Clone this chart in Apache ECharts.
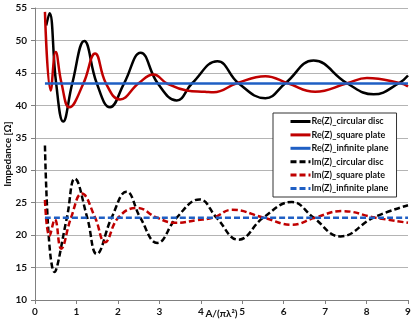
<!DOCTYPE html>
<html><head><meta charset="utf-8">
<script src="https://cdn.jsdelivr.net/npm/echarts@6/dist/echarts.min.js"></script>
<style>html,body{margin:0;padding:0;background:#fff}#c{width:418px;height:325px}</style>
</head><body><div id="c"></div>
<script>
// Re(Z) circular disc
const reDiscX = [0.27,0.35,0.51,0.68,0.9,1.19,1.49,1.81,2.15,2.55,2.96,3.42,3.79,4.4,4.91,5.56,6.04,6.72,7.53,8.17,8.78,9.0];
const reDiscY = [52.3,54.2,43.4,37.5,43.4,49.9,43.4,39.7,43.4,48.1,43.4,40.75,43.4,46.8,43.4,41.1,43.4,46.9,43.4,41.7,43.4,44.6];
// Re(Z) square plate
const reSquareX = [0.24,0.38,0.5,0.64,0.83,1.17,1.45,1.71,2.05,2.5,2.86,3.18,3.66,4.1,4.31,4.87,5.56,6.1,6.76,7.53,8.01,8.82,9.0];
const reSquareY = [54.4,42.3,48.2,43.4,39.7,43.4,48.0,43.4,40.9,43.4,44.75,43.4,42.3,42.1,42.0,43.4,44.5,43.4,42.1,43.4,44.2,43.4,42.9];
// Re(Z) infinite plane
const rePlaneX = [0.24,9.0];
const rePlaneY = [43.37,43.37];
// Im(Z) circular disc
const imDiscX = [0.24,0.47,0.77,0.96,1.26,1.49,1.85,2.21,2.54,2.95,3.42,3.97,4.38,4.91,5.51,6.2,6.72,7.37,8.17,9.0];
const imDiscY = [33.8,14.3,22.7,28.7,22.7,17.1,22.7,26.7,22.7,18.8,22.7,25.5,22.7,19.3,22.7,25.1,22.7,19.8,22.7,24.6];
// Im(Z) square plate
const imSquareX = [0.24,0.35,0.48,0.63,0.87,1.13,1.45,1.69,2.01,2.46,2.94,3.38,3.9,4.31,4.75,5.51,6.2,6.76,7.41,8.2,9.0];
const imSquareY = [25.4,19.9,22.4,17.9,22.7,26.4,22.7,18.9,22.7,24.2,22.7,21.9,22.3,22.7,23.9,22.7,21.6,22.7,23.7,22.7,21.9];
// Im(Z) infinite plane
const imPlaneX = [0.24,9.0];
const imPlaneY = [22.68,22.68];

const names = ['Re(Z)_circular disc','Re(Z)_square plate','Re(Z)_infinite plane','Im(Z)_circular disc','Im(Z)_square plate','Im(Z)_infinite plane'];
const xTicks = [0,1,2,3,4,5,6,7,8,9];
const yTicks = [10,15,20,25,30,35,40,45,50,55];

const zip = (xs, ys) => xs.map((x, i) => [x, ys[i]]);
const BLACK = '#000000', RED = '#c00000', BLUE = '#1f5fc4';
const FONT = 'Lato';
function mk(name, xs, ys, color, dashed) {
  return {
    name, type: 'line', data: zip(xs, ys), smooth: 0.45, showSymbol: false, symbol: 'none',
    lineStyle: { color, width: 2.5, type: dashed ? [6, 3] : 'solid' },
    itemStyle: { color }, animation: false, z: dashed ? 2 : 3
  };
}

const chart = echarts.init(document.getElementById('c'), null, { renderer: 'canvas' });
chart.setOption({
  animation: false,
  backgroundColor: '#fff',
  grid: { left: 35, right: 10, top: 8, bottom: 25, containLabel: false, outerBoundsMode: 'none' },
  xAxis: {
    type: 'value', min: xTicks[0], max: xTicks[xTicks.length - 1], interval: 1,
    name: 'A/(πλ²)', nameLocation: 'middle', nameGap: 9, nameMoveOverlap: false,
    nameTextStyle: { fontFamily: FONT, fontWeight: 'bold', fontSize: 10, color: '#111' },
    axisLine: { lineStyle: { color: '#808080', width: 1 } },
    axisTick: { show: true, inside: false, length: 4, lineStyle: { color: '#808080' } },
    axisLabel: { fontFamily: FONT, fontWeight: 'bold', fontSize: 10, color: '#111', margin: 7 },
    splitLine: { show: false }
  },
  yAxis: {
    type: 'value', min: yTicks[0], max: yTicks[yTicks.length - 1], interval: 5,
    name: 'Impedance [Ω]', nameLocation: 'middle', nameGap: 22, nameRotate: 90, nameMoveOverlap: false,
    nameTextStyle: { fontFamily: FONT, fontWeight: 'bold', fontSize: 10, color: '#111' },
    axisLine: { show: true, lineStyle: { color: '#808080', width: 1 } },
    axisTick: { show: true, inside: false, length: 4, lineStyle: { color: '#808080' } },
    axisLabel: { fontFamily: FONT, fontWeight: 'bold', fontSize: 10, color: '#111', margin: 8 },
    splitLine: { show: true, lineStyle: { color: '#b4b4b4', width: 1 } }
  },
  legend: {
    show: true, orient: 'vertical', left: 273, top: 113,
    backgroundColor: '#fff', borderColor: '#333', borderWidth: 1, padding: [4, 8, 4, 16],
    itemWidth: 20, itemHeight: 10, itemGap: 4.4,
    itemStyle: { opacity: 0 },
    lineStyle: { width: 3 },
    textStyle: { fontFamily: FONT, fontWeight: 'bold', fontSize: 9, color: '#111', padding: [0, 0, 0, -4] },
    data: names,
    selectedMode: false
  },
  series: [
    mk(names[0], reDiscX, reDiscY, BLACK, false),
    mk(names[1], reSquareX, reSquareY, RED, false),
    mk(names[2], rePlaneX, rePlaneY, BLUE, false),
    mk(names[3], imDiscX, imDiscY, BLACK, true),
    mk(names[4], imSquareX, imSquareY, RED, true),
    mk(names[5], imPlaneX, imPlaneY, BLUE, true)
  ]
});
</script></body></html>
